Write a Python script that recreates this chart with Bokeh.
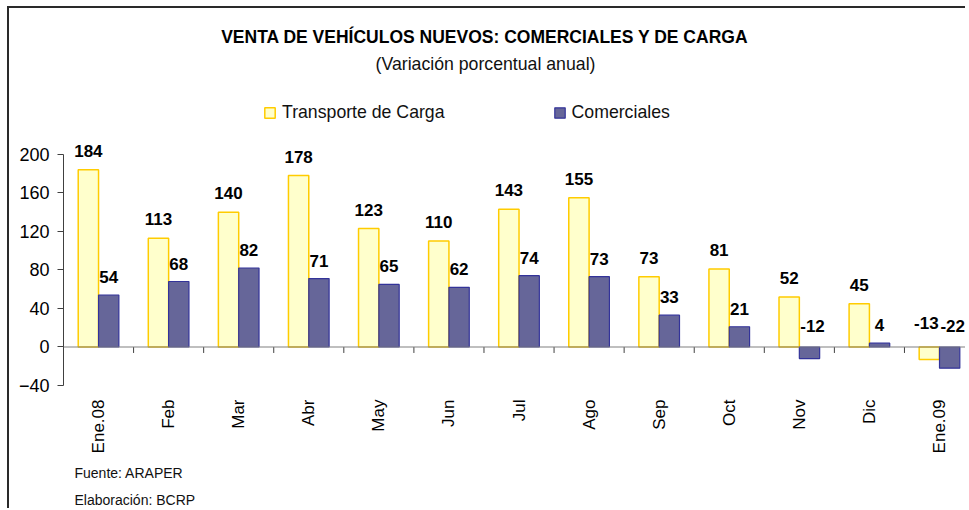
import math
from bokeh.plotting import figure
from bokeh.models import (ColumnDataSource, FixedTicker, Label, Legend, LegendItem,
                          Span, Range1d, Title)
from bokeh.core.properties import value
from bokeh.embed import file_html
from bokeh.resources import INLINE

# ---------------- data ----------------
categories = ["Ene.08", "Feb", "Mar", "Abr", "May", "Jun", "Jul", "Ago",
              "Sep", "Oct", "Nov", "Dic", "Ene.09"]
carga = [184, 113, 140, 178, 123, 110, 143, 155, 73, 81, 52, 45, -13]
comerciales = [54, 68, 82, 71, 65, 62, 74, 73, 33, 21, -12, 4, -22]
y_ticks = [-40, 0, 40, 80, 120, 160, 200]
series_names = ["Transporte de Carga", "Comerciales"]
title_text = "VENTA DE VEHÍCULOS NUEVOS: COMERCIALES Y DE CARGA"
subtitle_text = "(Variación porcentual anual)"
notes = ["Fuente: ARAPER", "Elaboración: BCRP"]

# ---------------- layout ----------------
ORGX, ORGY = 9, 8          # canvas origin on the page (margin + border)
W, H = 958, 502
LEFT, RIGHT, TOP, BOTTOM = 54, 0, 0, 124
Y0 = -40
KY = 0.9655                # px per unit on y
KX = 70.08                 # px per category
frame_w = W - LEFT - RIGHT
frame_h = H - TOP - BOTTOM
Y1 = Y0 + frame_h / KY
X1 = frame_w / KX
n = len(categories)
BASE_FIX = 6               # bokeh draws alphabetic baseline a bit low


def dx(page_x):
    return (page_x - ORGX - LEFT) / KX


def dy(page_y):
    return Y1 - (page_y - BASE_FIX - ORGY - TOP) / KY


SANS = "Liberation Sans"

p = figure(width=W, height=H, x_range=Range1d(0, X1), y_range=Range1d(Y0, Y1),
           output_backend="svg", toolbar_location=None, title=None,
           min_border_left=LEFT, min_border_right=RIGHT,
           min_border_top=TOP, min_border_bottom=BOTTOM)
p.styles = {"margin-left": "7px", "margin-top": "6px",
            "border-top": "2px solid #2a2a2a", "border-left": "2px solid #2a2a2a"}
p.outline_line_color = None
p.xgrid.visible = False
p.ygrid.visible = False
p.background_fill_color = "white"
p.border_fill_color = "white"

# x axis (category labels)
xa = p.xaxis[0]
centers = [i + 0.5 for i in range(n)]
xa.ticker = FixedTicker(ticks=centers)
xa.major_label_overrides = {c: lab for c, lab in zip(centers, categories)}
xa.major_label_orientation = math.pi / 2
xa.axis_line_color = None
xa.major_tick_line_color = None
xa.major_tick_in = 0
xa.major_tick_out = 0
xa.minor_tick_line_color = None
xa.major_label_standoff = 14
xa.major_label_text_font = SANS
xa.major_label_text_font_size = "17px"
xa.major_label_text_color = "black"

# y axis
ya = p.yaxis[0]
ya.ticker = FixedTicker(ticks=y_ticks)
ya.bounds = (min(y_ticks), max(y_ticks))
ya.major_tick_in = 0
ya.major_tick_out = 6
ya.minor_tick_line_color = None
ya.axis_line_color = "#404040"
ya.major_tick_line_color = "#404040"
ya.major_label_standoff = 8
ya.major_label_text_font = SANS
ya.major_label_text_font_size = "18px"
ya.major_label_text_color = "black"

# zero line and category boundary ticks
p.add_layout(Span(location=0, dimension="width", line_color="#808080", line_width=1.2))
bounds_x = list(range(1, n))
p.segment(x0=bounds_x, y0=[0] * len(bounds_x), x1=bounds_x,
          y1=[-6 / KY] * len(bounds_x), line_color="#404040", line_width=1)

# bars
bw = 0.29
src = ColumnDataSource(dict(
    xa=[c - bw / 2 for c in centers],
    xb=[c + bw / 2 for c in centers],
    carga=carga,
    com=comerciales,
    ya=[max(v, 0) for v in carga],
    yb=[max(v, 0) for v in comerciales],
    ta=[str(v) for v in carga],
    tb=[str(v) for v in comerciales],
    oa=[-19 if v >= 0 else -24 for v in carga],
    ob=[-18 if v >= 0 else -21 for v in comerciales],
    xoa=[0 if v >= 0 else -3 for v in carga],
    xob=[0 if v >= 0 else 3 for v in comerciales],
))
r1 = p.vbar(x="xa", top="carga", bottom=0, width=bw, source=src,
            fill_color="#FFFFCC", line_color="#FFCC00", line_width=1.5)
r2 = p.vbar(x="xb", top="com", bottom=0, width=bw, source=src,
            fill_color="#666699", line_color="#333399", line_width=1.2)

common = dict(text_align="center", text_baseline="alphabetic",
              text_font=value(SANS), text_font_style="bold",
              text_font_size="17px", text_color="black", source=src)
p.text(x="xa", y="ya", text="ta", y_offset="oa", x_offset="xoa", **common)
p.text(x="xb", y="yb", text="tb", y_offset="ob", x_offset="xob", **common)

# legend (inside the frame, above the bars)
legend = Legend(items=[LegendItem(label=series_names[0], renderers=[r1]),
                       LegendItem(label=series_names[1], renderers=[r2])],
                orientation="horizontal", location=(263 - ORGX - LEFT, 386 - 124),
                glyph_width=13, glyph_height=13, label_standoff=6, spacing=108,
                padding=0, margin=0, border_line_color=None,
                background_fill_alpha=0,
                label_text_font=SANS, label_text_font_size="17.7px",
                label_text_color="#111111")
p.add_layout(legend, "center")

# titles (inside the frame)
p.add_layout(Label(x=dx(484.5), y=dy(42.7), text=title_text, text_align="center",
                   text_baseline="alphabetic", text_font=SANS,
                   text_font_style="bold", text_font_size="17.5px",
                   text_color="black"))
p.add_layout(Label(x=dx(485), y=dy(70), text=subtitle_text, text_align="center",
                   text_baseline="alphabetic", text_font=SANS,
                   text_font_size="17.7px", text_color="#111111"))

# notes below the category axis
for note, so in zip(notes, [12, 6]):
    p.add_layout(Title(text=note, align="left", offset=11, standoff=so,
                       text_font=SANS, text_font_size="14px",
                       text_font_style="normal", text_color="#111111"), "below")

open("out.html", "w").write(file_html(p, INLINE))
